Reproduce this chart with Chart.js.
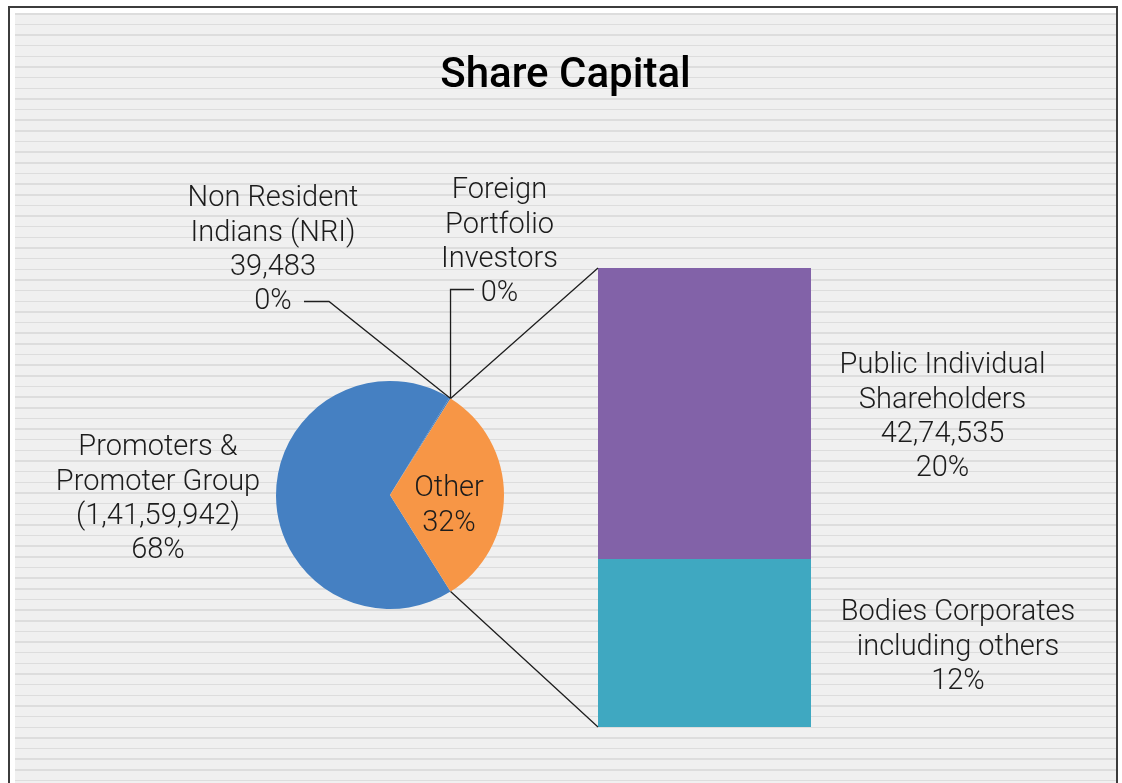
<!DOCTYPE html>
<html>
<head>
<meta charset="utf-8">
<script src="https://cdn.jsdelivr.net/npm/chart.js@4.4.1/dist/chart.umd.min.js"></script>
<style>
  html, body { margin: 0; padding: 0; background: #ffffff; }
  #stage { position: relative; width: 1122px; height: 783px; overflow: hidden; }
  #frame {
    position: absolute; left: 8px; top: 6px; width: 1110px; height: 820px;
    border: 2px solid #3c3c3c; border-bottom: none; box-sizing: border-box;
  }
  #panel {
    position: absolute; left: 15px; top: 13px; width: 1101px; height: 780px;
    background: repeating-linear-gradient(to bottom,
      #dddddd 0px, #dddddd 1.5px, #f0f0f0 1.5px, #f0f0f0 10.65px);
  }
  canvas { position: absolute; left: 0; top: 0; }
</style>
</head>
<body>
<div id="stage">
  <div id="frame"></div>
  <div id="panel"></div>
  <canvas id="pie" width="1122" height="783"></canvas>
  <canvas id="bar" width="1122" height="783"></canvas>
</div>
<script>
// Shareholding pattern (number of shares)
const categories = [
  'Promoters & Promoter Group',
  'Non Resident Indians (NRI)',
  'Foreign Portfolio Investors',
  'Public Individual Shareholders',
  'Bodies Corporates including others'
];
const shares = [14159942, 39483, 1250, 4274535, 2463000];
const sliceColors = ['#4580c2', '#4580c2', '#4580c2', '#8262a8', '#3fa8c1'];
const otherColor = '#f79646';
const otherName = 'Other';

// Label text, broken into lines
const nameLines = [
  ['Promoters &', 'Promoter Group'],
  ['Non Resident', 'Indians (NRI)'],
  ['Foreign', 'Portfolio', 'Investors'],
  ['Public Individual', 'Shareholders'],
  ['Bodies Corporates', 'including others']
];

const total = shares.reduce((a, b) => a + b, 0);
const pct = v => Math.round(v / total * 100) + '%';
function indian(n) {
  const s = String(Math.round(n));
  if (s.length <= 3) return s;
  const last3 = s.slice(-3);
  let rest = s.slice(0, -3);
  const parts = [];
  while (rest.length > 2) { parts.unshift(rest.slice(-2)); rest = rest.slice(0, -2); }
  if (rest) parts.unshift(rest);
  return parts.join(',') + ',' + last3;
}

// Pie: the first three categories, the last two grouped as "Other"
const pieValues = [shares[0], shares[1], shares[2], shares[3] + shares[4]];
const pieLabels = [categories[0], categories[1], categories[2], otherName];
const pieColors = [sliceColors[0], sliceColors[1], sliceColors[2], otherColor];
const beforeOther = (pieValues[0] + pieValues[1] + pieValues[2]) / total;
const otherFrac = pieValues[3] / total;
// turn the pie so the "Other" wedge faces the bar on the right
const pieRotation = 90 - (beforeOther + otherFrac / 2) * 360;

const W = 1122, H = 783;
const FONT = 'Roboto, "Noto Sans", sans-serif';
const LBL = 29, LH = 34.4;
const INK = '#1c1c1c';

const pieChart = new Chart(document.getElementById('pie'), {
  type: 'pie',
  data: {
    labels: pieLabels,
    datasets: [{ data: pieValues, backgroundColor: pieColors, borderWidth: 0, hoverOffset: 0 }]
  },
  options: {
    responsive: false, animation: false, devicePixelRatio: 1,
    rotation: pieRotation,
    layout: { padding: { left: 276, top: 381, right: W - 504, bottom: H - 609 } },
    plugins: { legend: { display: false }, tooltip: { enabled: false } }
  }
});

function textBlock(ctx, lines, cx, y0, align) {
  ctx.textAlign = align || 'center';
  lines.forEach((t, i) => ctx.fillText(t, cx, y0 + i * LH + LBL * 0.355));
}

const overlay = {
  id: 'overlay',
  afterDraw(chart) {
    const ctx = chart.ctx;
    const arcs = pieChart.getDatasetMeta(0).data;
    const other = arcs[3];
    const cx = other.x, cy = other.y, r = other.outerRadius;
    const onEdge = a => ({ x: cx + r * Math.cos(a), y: cy + r * Math.sin(a) });
    const top = chart.getDatasetMeta(1).data[0];
    const bottom = chart.getDatasetMeta(0).data[0];
    const barLeft = top.x - top.width / 2;

    ctx.save();
    ctx.strokeStyle = '#1e1e1e';
    ctx.lineWidth = 1.3;

    // connectors between the "Other" wedge and the bar
    const p1 = onEdge(other.startAngle), p2 = onEdge(other.endAngle);
    ctx.beginPath();
    ctx.moveTo(p1.x, p1.y); ctx.lineTo(barLeft, top.y);
    ctx.moveTo(p2.x, p2.y); ctx.lineTo(barLeft, bottom.base);
    ctx.stroke();

    // leader lines for the tiny slices
    const nri = arcs[1], fpi = arcs[2];
    const a1 = onEdge((nri.startAngle + nri.endAngle) / 2);
    const a2 = onEdge((fpi.startAngle + fpi.endAngle) / 2);
    ctx.beginPath();
    ctx.moveTo(a1.x, a1.y); ctx.lineTo(329, 301.5); ctx.lineTo(304, 301.5);
    ctx.moveTo(a2.x, a2.y); ctx.lineTo(a2.x, 289.5); ctx.lineTo(474, 289.5);
    ctx.stroke();

    // title
    ctx.fillStyle = '#000000';
    ctx.font = '500 42px ' + FONT;
    ctx.textAlign = 'center';
    ctx.fillText('Share Capital', 565.5, 72 + 42 * 0.355);

    // data labels
    ctx.fillStyle = INK;
    ctx.font = '300 ' + LBL + 'px ' + FONT;
    textBlock(ctx, [...nameLines[0], '(' + indian(shares[0]) + ')', pct(shares[0])], 158, 445);
    textBlock(ctx, [...nameLines[1], indian(shares[1]), pct(shares[1])], 273, 196);
    textBlock(ctx, [...nameLines[2], pct(shares[2])], 499.5, 188);
    textBlock(ctx, [otherName, pct(pieValues[3])], 449, 486);
    textBlock(ctx, [...nameLines[3], indian(shares[3]), pct(shares[3])], 942.5, 363);
    textBlock(ctx, [...nameLines[4], pct(shares[4])], 958, 610);
    ctx.restore();
  }
};

new Chart(document.getElementById('bar'), {
  type: 'bar',
  data: {
    labels: [otherName],
    datasets: [
      { label: categories[4], data: [shares[4]], backgroundColor: sliceColors[4], borderWidth: 0 },
      { label: categories[3], data: [shares[3]], backgroundColor: sliceColors[3], borderWidth: 0 }
    ]
  },
  options: {
    responsive: false, animation: false, devicePixelRatio: 1,
    barPercentage: 1, categoryPercentage: 1,
    layout: { padding: { left: 598, top: 268, right: W - 811, bottom: H - 727 } },
    scales: {
      x: { stacked: true, display: false },
      y: { stacked: true, display: false, min: 0, max: shares[3] + shares[4] }
    },
    plugins: { legend: { display: false }, tooltip: { enabled: false } }
  },
  plugins: [overlay]
});
</script>
</body>
</html>
